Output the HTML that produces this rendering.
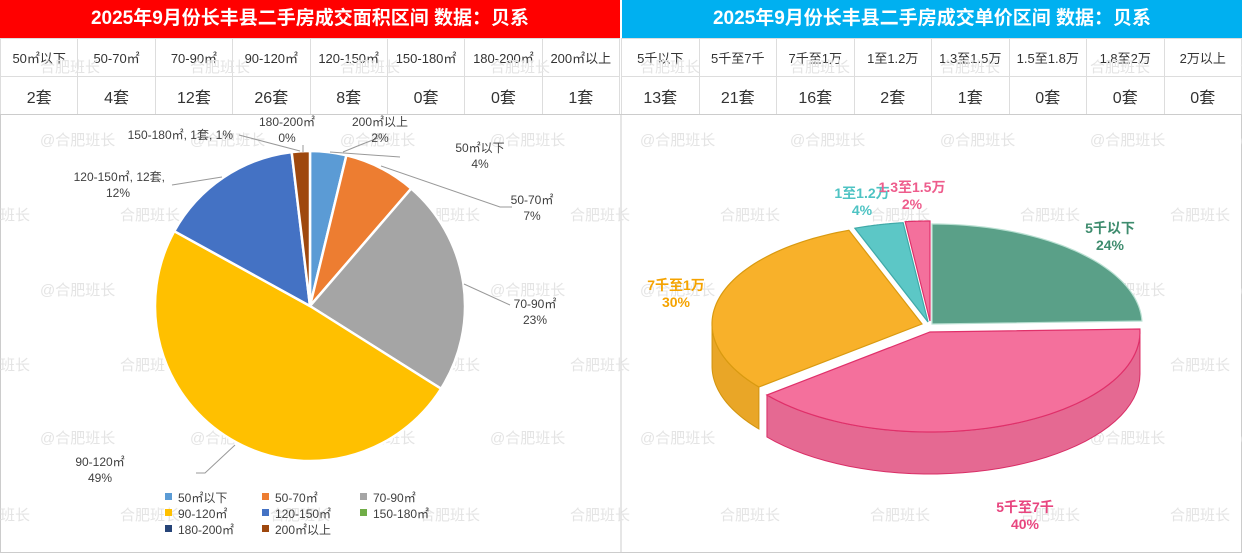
<!DOCTYPE html>
<html><head><meta charset="utf-8">
<style>
body{margin:0;width:1242px;height:553px;background:#fff;font-family:"Liberation Sans","Noto Sans CJK SC",sans-serif;overflow:hidden;position:relative}
.hdr{position:absolute;top:0;height:38px;color:#fff;font-size:19px;font-weight:bold;text-align:center;line-height:38px}
table{position:absolute;top:38px;border-collapse:collapse;table-layout:fixed}
td{border:1px solid #ddd;text-align:center;color:#333;height:37px;padding:0}
tr.r1 td{font-size:13px}
tr.r2 td{font-size:16px}
svg{position:absolute;left:0;top:0}
</style></head><body>
<div class="hdr" style="left:0;width:620px;background:#ff0000">2025年9月份长丰县二手房成交面积区间 数据：贝系</div>
<div class="hdr" style="left:622px;width:620px;background:#00b0f0">2025年9月份长丰县二手房成交单价区间 数据：贝系</div>
<table style="left:0;width:620px">
<tr class="r1"><td>50㎡以下</td><td>50-70㎡</td><td>70-90㎡</td><td>90-120㎡</td><td>120-150㎡</td><td>150-180㎡</td><td>180-200㎡</td><td>200㎡以上</td></tr>
<tr class="r2"><td>2套</td><td>4套</td><td>12套</td><td>26套</td><td>8套</td><td>0套</td><td>0套</td><td>1套</td></tr></table>
<table style="left:621px;width:621px">
<tr class="r1"><td>5千以下</td><td>5千至7千</td><td>7千至1万</td><td>1至1.2万</td><td>1.3至1.5万</td><td>1.5至1.8万</td><td>1.8至2万</td><td>2万以上</td></tr>
<tr class="r2"><td>13套</td><td>21套</td><td>16套</td><td>2套</td><td>1套</td><td>0套</td><td>0套</td><td>0套</td></tr></table>
<svg id="s" width="1242" height="553" xmlns="http://www.w3.org/2000/svg" style="top:0">
<rect x="0.5" y="114.5" width="1241" height="438" fill="none" stroke="#ccc"/>
<line x1="621" y1="114" x2="621" y2="553" stroke="#ccc"/>
<g id="wm"></g><g id="left"></g><g id="right"></g>
</svg>
<script>
const NS='http://www.w3.org/2000/svg';
function mk(t,a,p,txt){const e=document.createElementNS(NS,t);for(const k in a)e.setAttribute(k,a[k]);if(txt!==undefined)e.textContent=txt;p.appendChild(e);return e;}
const areaCats=['50㎡以下','50-70㎡','70-90㎡','90-120㎡','120-150㎡','150-180㎡','180-200㎡','200㎡以上'];
const areaVals=[2,4,12,26,8,0,0,1];
const areaColors=['#5b9bd5','#ed7d31','#a5a5a5','#ffc000','#4472c4','#70ad47','#264478','#9e480e'];
const priceCats=['5千以下','5千至7千','7千至1万','1至1.2万','1.3至1.5万'];
const priceVals=[13,21,16,2,1];
const pricePct=['24%','40%','30%','4%','2%'];
const priceColors=['#5aa088','#f4709c','#f8b12a','#5cc7c6','#f4709c'];
const wm=document.getElementById('wm');
[[145,"@合肥班长"],[220,"合肥班长"],[295,"@合肥班长"],[370,"合肥班长"],[443,"@合肥班长"],[520,"合肥班长"],[72,"合肥班长"]].forEach((r,i)=>{for(let k=0;k<9;k++){const x=(i%2?-30:40)+k*150;const t=mk('text',{x:x,y:r[0],'font-size':15,fill:'#e4e4e4'},wm,r[1]);

}});
const L=document.getElementById('left');
const cx=310,cy=306,R=155;const tot=areaVals.reduce((a,b)=>a+b,0);
let a=0;
areaVals.forEach((v,i)=>{const a2=a+v/tot*2*Math.PI;if(v>0){
const x1=cx+R*Math.sin(a),y1=cy-R*Math.cos(a),x2=cx+R*Math.sin(a2),y2=cy-R*Math.cos(a2);
const p=mk('path',{d:`M${cx},${cy}L${x1},${y1}A${R},${R} 0 ${a2-a>Math.PI?1:0} 1 ${x2},${y2}Z`,fill:areaColors[i],stroke:'#fff','stroke-width':2.5},L);

}a=a2;});
const labs=[[380,126,'200㎡以上','2%',[[343,152],[360,145],[378,138]]],[287,126,'180-200㎡','0%',[[303,152],[303,145]]],[480,152,'50㎡以下','4%',[[330,152],[400,157]]],[532,204,'50-70㎡','7%',[[381,166],[500,207],[512,207]]],[535,308,'70-90㎡','23%',[[464,284],[510,305]]],[100,466,'90-120㎡','49%',[[196,473],[205,473],[235,445]]]];
labs.forEach(l=>{const g=mk('g',{},L);
mk('polyline',{points:l[4].map(p=>p.join(',')).join(' '),fill:'none',stroke:'#999'},g);
mk('text',{x:l[0],y:l[1],'font-size':12,fill:'#404040','text-anchor':'middle'},g,l[2]);mk('text',{x:l[0],y:l[1]+16,'font-size':12,fill:'#404040','text-anchor':'middle'},g,l[3]);});
mk('text',{x:233,y:139,'font-size':12,fill:'#404040','text-anchor':'end'},L,'150-180㎡, 1套, 1%');
mk('polyline',{points:'239,135 300,151',fill:'none',stroke:'#999'},L);
mk('text',{x:165,y:181,'font-size':12,fill:'#404040','text-anchor':'end'},L,'120-150㎡, 12套,');
mk('text',{x:118,y:197,'font-size':12,fill:'#404040','text-anchor':'middle'},L,'12%');
mk('polyline',{points:'172,185 222,177',fill:'none',stroke:'#999'},L);
const lgx=[165,262,360];
areaCats.forEach((c,i)=>{const g=mk('g',{},L);
const x=lgx[i%3],y=498+Math.floor(i/3)*16;mk('rect',{x:x,y:y-5,width:7,height:7,fill:areaColors[i]},g);mk('text',{x:x+13,y:y+4,'font-size':12,fill:'#404040'},g,c);});
const Rg=document.getElementById('right');
const pcx=932,pcy=324,rx=210,ry=100,dep=42;
const ptot=priceVals.reduce((a,b)=>a+b,0);
const offs=[[0,0],[-2,8],[-10,0],[-4,-2],[-2,-3]];
function pt(c,t,dy){return [c[0]+rx*Math.sin(t),c[1]-ry*Math.cos(t)+(dy||0)];}
let b=0;const sl=[];
priceVals.forEach((v,i)=>{const b2=b+v/ptot*2*Math.PI;sl.push([b,b2,i]);b=b2;});
const sideOrder=[2,3,4,0,1];
sideOrder.forEach(idx=>{const [s,e,i]=sl[idx];const c=[pcx+offs[i][0],pcy+offs[i][1]];const f1=Math.max(s,Math.PI/2),f2=Math.min(e,1.5*Math.PI);
if(f2>f1){let d='';const N=40;for(let k=0;k<=N;k++){const p=pt(c,f1+(f2-f1)*k/N);d+=(k?'L':'M')+p[0]+','+p[1];}
for(let k=N;k>=0;k--){const p=pt(c,f1+(f2-f1)*k/N,dep);d+='L'+p[0]+','+p[1];}
const p=mk('path',{d:d+'Z',fill:priceColors[i],stroke:i==1?'#e0306a':'#d99a10','stroke-width':1},Rg);


mk('path',{d:d+'Z',fill:'#000',opacity:0.06},Rg);}});
sl.forEach(([s,e,i])=>{const c=[pcx+offs[i][0],pcy+offs[i][1]];let d=`M${c[0]},${c[1]}`;const N=60;for(let k=0;k<=N;k++){const p=pt(c,s+(e-s)*k/N);d+='L'+p[0]+','+p[1];}
const p=mk('path',{d:d+'Z',fill:priceColors[i],stroke:['#b9e0d2','#e0306a','#d99a10','#3fa9a8','#e0306a'][i],'stroke-width':1.2},Rg);

});
const plab=[[1110,233,'#3e8c6e'],[1025,512,'#e8457f'],[676,290,'#f5a300'],[862,198,'#4ec3c3'],[912,192,'#ee5c8c']];
priceCats.forEach((c,i)=>{const g=mk('g',{},Rg);
mk('text',{x:plab[i][0],y:plab[i][1],'font-size':14,'font-weight':'bold',fill:plab[i][2],'text-anchor':'middle'},g,c);
mk('text',{x:plab[i][0],y:plab[i][1]+17,'font-size':14,'font-weight':'bold',fill:plab[i][2],'text-anchor':'middle'},g,pricePct[i]);});
</script>
</body></html>
